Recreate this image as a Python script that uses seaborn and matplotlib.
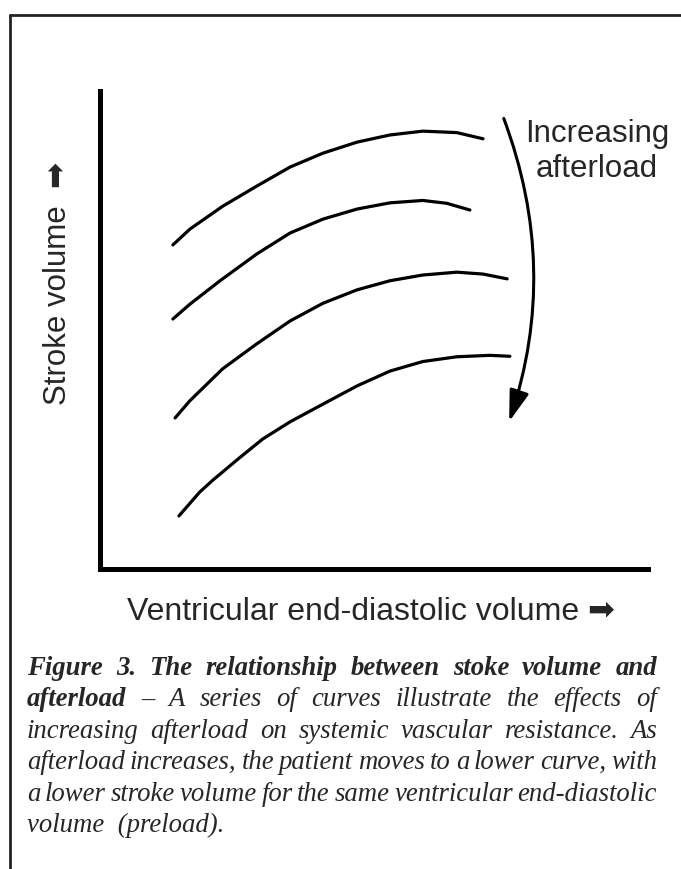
import matplotlib
matplotlib.use("Agg")
import matplotlib.pyplot as plt
from matplotlib.lines import Line2D
from matplotlib.transforms import IdentityTransform
import pandas as pd
import seaborn as sns

# Frank-Starling type curves, one per afterload level (arbitrary units 0-10)
edv_1 = [1.33, 1.64, 2.24, 2.86, 3.47, 4.07, 4.69, 5.29, 5.89, 6.51, 6.99]
sv_1 = [6.78, 7.11, 7.59, 8.01, 8.41, 8.70, 8.93, 9.08, 9.16, 9.13, 9.00]

edv_2 = [1.33, 1.64, 2.19, 2.86, 3.47, 4.07, 4.69, 5.29, 5.89, 6.33, 6.75]
sv_2 = [5.23, 5.54, 6.03, 6.59, 7.03, 7.32, 7.53, 7.66, 7.71, 7.65, 7.51]

edv_3 = [1.37, 1.64, 2.24, 2.86, 3.47, 4.07, 4.69, 5.29, 5.89, 6.51, 6.99, 7.43]
sv_3 = [3.16, 3.52, 4.19, 4.71, 5.19, 5.56, 5.84, 6.03, 6.15, 6.21, 6.17, 6.07]

edv_4 = [1.44, 1.82, 2.06, 2.55, 2.97, 3.47, 4.07, 4.69, 5.29, 5.89, 6.51, 7.12, 7.48]
sv_4 = [1.11, 1.61, 1.86, 2.33, 2.72, 3.08, 3.45, 3.83, 4.14, 4.34, 4.44, 4.47, 4.45]

afterload = ["low", "moderate", "high", "very high"]

xlabel = "Ventricular end-diastolic volume ➡"
ylabel = "Stroke volume  ➡"
note = "Increasing\nafterload"

# (bold part, italic part) per caption line
caption = [
    ("Figure 3. The relationship between stoke volume and", ""),
    ("afterload", "– A series of  curves illustrate the effects of"),
    ("", "increasing afterload on systemic vascular resistance. As"),
    ("", "afterload increases, the patient moves to a lower curve, with"),
    ("", "a lower stroke volume for the same ventricular end-diastolic"),
    ("", "volume  (preload)."),
]

W, H = 681, 870

frames = []
for name, xs, ys in zip(afterload, [edv_1, edv_2, edv_3, edv_4], [sv_1, sv_2, sv_3, sv_4]):
    frames.append(pd.DataFrame({"afterload": name, "edv": xs, "sv": ys}))
df = pd.concat(frames, ignore_index=True)

sns.set_theme(style="white")
plt.rcParams["font.family"] = ["Liberation Sans", "DejaVu Sans"]

fig = plt.figure(figsize=(W / 100, H / 100), dpi=100)
ax = fig.add_axes([100 / W, 1 - 570 / H, 548 / W, 478 / H])

sns.lineplot(data=df, x="edv", y="sv", units="afterload", estimator=None,
             sort=False, color="black", linewidth=2.3, ax=ax)

ax.set_xlim(0, 10)
ax.set_ylim(0, 10)
ax.set_xticks([])
ax.set_yticks([])
for side in ["top", "right"]:
    ax.spines[side].set_visible(False)
for side in ["left", "bottom"]:
    ax.spines[side].set_linewidth(3.6)
    ax.spines[side].set_color("black")
    ax.spines[side].set_capstyle("projecting")

ax.set_xlabel(xlabel, fontsize=23, va="baseline")
ax.xaxis.set_label_coords(0.495, (570 - 620) / 478)
ax.set_ylabel(ylabel, fontsize=22.5, va="center")
ax.yaxis.set_label_coords((58 - 100) / 548, (570 - 283) / 478)

# curved arrow: increasing afterload
ax.annotate("", xy=(7.45, 3.03), xytext=(7.35, 9.48),
            arrowprops=dict(arrowstyle="-|>,head_length=0.95,head_width=0.3",
                            connectionstyle="arc3,rad=-0.18",
                            color="black", lw=2.2, mutation_scale=20))
ax.text(9.07, 8.75, note, fontsize=22.5, ha="center", va="center",
        multialignment="center", linespacing=1.2)

# page frame (top and left edges)
fig.add_artist(Line2D([10 / W, 1], [1 - 16 / H, 1 - 16 / H], color="#222222", lw=2))
fig.add_artist(Line2D([10 / W, 10 / W], [1 - 16 / H, 0], color="#222222", lw=2))

# justified caption, word by word
renderer = fig.canvas.get_renderer()
x0, x1 = 27, 657
base = 675
step = 31.4
size = 19.3
for i, (bold, ital) in enumerate(caption):
    y = H - (base + i * step)
    last = i == len(caption) - 1
    if last:
        fig.text(x0, y, ital, transform=IdentityTransform(), fontsize=size,
                 family="Liberation Serif", style="italic", va="baseline")
        continue
    words = [(w, "bold") for w in bold.split()] + [(w, "normal") for w in ital.split()]
    texts = [fig.text(0, y, w, transform=IdentityTransform(), fontsize=size,
                      family="Liberation Serif", style="italic", weight=wt,
                      va="baseline") for w, wt in words]
    widths = [t.get_window_extent(renderer).width for t in texts]
    gap = (x1 - x0 - sum(widths)) / (len(texts) - 1)
    x = x0
    for t, w in zip(texts, widths):
        t.set_x(x)
        x += w + gap

fig.savefig("out.png", dpi=100)
